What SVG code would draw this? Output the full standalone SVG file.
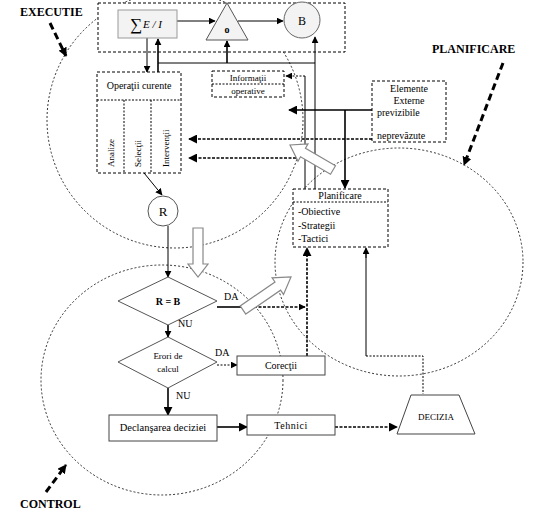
<svg xmlns="http://www.w3.org/2000/svg" width="551" height="523" viewBox="0 0 551 523">
<defs>
<marker id="ah" viewBox="0 0 10 10" refX="9" refY="5" markerWidth="7" markerHeight="7" markerUnits="userSpaceOnUse" orient="auto"><path d="M0,0 L10,5 L0,10 z" fill="#000"/></marker>
<marker id="ahb" viewBox="0 0 10 10" refX="9" refY="5" markerWidth="9" markerHeight="9" markerUnits="userSpaceOnUse" orient="auto"><path d="M0,0 L10,5 L0,10 z" fill="#000"/></marker>
</defs>
<style>
text{font-family:"Liberation Serif","Times New Roman",serif;fill:#000}
.lbl{font-size:12px;font-weight:bold}
.sm{font-size:9px}
.mm{font-size:10px}
.md{font-size:10px}
.zone{fill:none;stroke:#000;stroke-width:0.8;stroke-dasharray:2,2}
.dbox{fill:#fff;stroke:#000;stroke-width:1;stroke-dasharray:3,2}
.sbox{fill:#fff;stroke:#444;stroke-width:1}
.ln{fill:none;stroke:#000;stroke-width:1}
.lnb{fill:none;stroke:#000;stroke-width:1.6}
.dl{fill:none;stroke:#000;stroke-width:1;stroke-dasharray:2,1.5}
.dlb{fill:none;stroke:#000;stroke-width:1.6;stroke-dasharray:3,1.5}
.big{fill:none;stroke:#000;stroke-width:3;stroke-dasharray:7,4}
.blk{fill:#fff;stroke:#888;stroke-width:1.2}
</style>

<g id="zones">
<circle class="zone" cx="175" cy="120" r="128"/>
<ellipse class="zone" cx="399" cy="262" rx="124" ry="114"/>
<ellipse class="zone" cx="162" cy="380" rx="121" ry="115"/>
</g>

<g id="labels">
<text class="lbl" x="20" y="16">EXECUTIE</text>
<line class="big" x1="50" y1="23" x2="66" y2="56" marker-end="url(#ahb)"/>
<text class="lbl" x="432" y="53">PLANIFICARE</text>
<line class="big" x1="503" y1="63" x2="464" y2="165" marker-end="url(#ahb)"/>
<text class="lbl" x="20" y="508">CONTROL</text>
<line class="big" x1="46" y1="492" x2="66" y2="465" marker-end="url(#ahb)"/>
</g>

<g id="executie-box"><rect class="dbox" x="98" y="3" width="247" height="49" fill="none"/></g>

<g id="connectors">
<line class="ln" x1="177" y1="21" x2="215" y2="21" marker-end="url(#ah)"/>
<line class="ln" x1="238" y1="21" x2="283" y2="21" marker-end="url(#ah)"/>
<line class="ln" x1="147" y1="38" x2="147" y2="72" marker-end="url(#ah)"/>
<line class="lnb" x1="158" y1="72" x2="158" y2="39" marker-end="url(#ah)"/>
<line class="ln" x1="158" y1="63" x2="315" y2="63"/>
<line class="lnb" x1="227" y1="63" x2="227" y2="41" marker-end="url(#ah)"/>
<line class="ln" x1="315" y1="189" x2="315" y2="37" marker-end="url(#ah)"/>
<line class="ln" x1="305" y1="189" x2="305" y2="76"/>
<line class="dl" x1="305" y1="76" x2="286" y2="76" marker-end="url(#ah)"/>
<line class="lnb" x1="372" y1="110" x2="289" y2="110" marker-end="url(#ahb)"/>
<line class="lnb" x1="345" y1="110" x2="345" y2="188" marker-end="url(#ahb)"/>
<line class="dlb" x1="372" y1="139" x2="189" y2="139" marker-end="url(#ahb)"/>
<line class="dlb" x1="296" y1="158" x2="189" y2="158" marker-end="url(#ahb)"/>
<line class="ln" x1="140" y1="168" x2="162" y2="195" marker-end="url(#ah)"/>
<line class="ln" x1="168" y1="226" x2="168" y2="277" marker-end="url(#ah)"/>
<line class="lnb" x1="217" y1="307" x2="245" y2="307"/>
<line class="dlb" x1="245" y1="307" x2="305" y2="307" marker-end="url(#ah)"/>
<line class="dlb" x1="307" y1="356" x2="307" y2="248" marker-end="url(#ahb)"/>
<line class="lnb" x1="168" y1="325" x2="168" y2="337" marker-end="url(#ah)"/>
<line class="dl" x1="217" y1="365" x2="237" y2="365" marker-end="url(#ah)"/>
<line class="lnb" x1="168" y1="388" x2="168" y2="415" marker-end="url(#ahb)"/>
<line class="lnb" x1="217" y1="427" x2="247" y2="427" marker-end="url(#ahb)"/>
<line class="dlb" x1="335" y1="427" x2="397" y2="427" marker-end="url(#ahb)"/>
<polyline class="ln" points="366,356 366,249"/>
<line class="ln" x1="366" y1="258" x2="366" y2="248" marker-end="url(#ah)"/>
<polyline class="dl" points="366,356 423,356 423,394"/>
</g>

<g id="block-arrows">
<polygon class="blk" points="193,228 203,228 203,264 208,264 198,277 188,264 193,264"/>
<polygon class="blk" points="245.8,314.1 280.6,290.2 283.5,294.4 291,277 272.1,277.8 275,282 240.2,305.9"/>
<polygon class="blk" points="335.5,165.7 305.5,148.2 308,143.9 290,145 298,161.2 300.5,156.8 330.5,174.3"/>
</g>

<g id="node-sum">
<rect x="118" y="10" width="59" height="28" fill="#f3f3f3" stroke="#999"/>
<text x="130" y="30" font-size="17">∑</text>
<text x="143" y="28" font-size="11" font-style="italic">E / I</text>
</g>
<g id="node-o">
<polygon points="227,3 206,40 248,40" fill="#f3f3f3" stroke="#555"/>
<text x="227" y="33" font-size="10" font-weight="bold" text-anchor="middle">o</text>
</g>
<g id="node-b">
<circle cx="302" cy="20" r="18" fill="#f3f3f3" stroke="#666"/>
<text x="302" y="25" font-size="12" text-anchor="middle">B</text>
</g>

<g id="node-operatii">
<rect class="dbox" x="97" y="72" width="84" height="101"/>
<line class="dl" x1="97" y1="100" x2="181" y2="100"/>
<line class="dl" x1="124" y1="100" x2="124" y2="173"/>
<line class="dl" x1="151" y1="100" x2="151" y2="173"/>
<text class="mm" x="139" y="89" text-anchor="middle">Operaţii curente</text>
<text class="sm" transform="translate(114,167) rotate(-90)">Analize</text>
<text class="sm" transform="translate(141,167) rotate(-90)">Selecţii</text>
<text class="sm" transform="translate(169,167) rotate(-90)">Intervenţii</text>
</g>

<g id="node-informatii">
<rect class="dbox" x="212" y="71" width="72" height="26"/>
<line class="dl" x1="212" y1="84" x2="284" y2="84"/>
<text class="sm" x="248" y="81" text-anchor="middle">Informaţii</text>
<text class="sm" x="248" y="94" text-anchor="middle">operative</text>
</g>

<g id="node-elemente">
<rect class="dbox" x="372" y="81" width="74" height="61"/>
<text class="mm" x="409" y="92" text-anchor="middle">Elemente</text>
<text class="mm" x="409" y="104" text-anchor="middle">Externe</text>
<text class="mm" x="377" y="116">previzibile</text>
<text class="mm" x="377" y="139">neprevăzute</text>
</g>

<g id="node-planificare">
<rect class="dbox" x="293" y="189" width="95" height="58"/>
<line class="dl" x1="293" y1="202" x2="388" y2="202"/>
<text class="mm" x="340" y="199" text-anchor="middle">Planificare</text>
<text class="mm" x="298" y="215">-Obiective</text>
<text class="mm" x="298" y="229">-Strategii</text>
<text class="mm" x="298" y="242">-Tactici</text>
</g>

<g id="node-r">
<circle cx="163" cy="211" r="15" fill="#fff" stroke="#555"/>
<text x="163" y="216" font-size="13" text-anchor="middle">R</text>
</g>

<g id="node-rb">
<polygon points="168,277 217,301 168,325 118,301" fill="#fff" stroke="#555"/>
<text x="168" y="305" font-size="10" font-weight="bold" text-anchor="middle">R = B</text>
<text class="md" x="224" y="300">DA</text>
<text class="md" x="178" y="327">NU</text>
</g>

<g id="node-erori">
<polygon points="168,337 217,362 168,388 118,362" fill="#fff" stroke="#555"/>
<text class="sm" x="168" y="359" text-anchor="middle">Erori de</text>
<text class="sm" x="168" y="372" text-anchor="middle">calcul</text>
<text class="md" x="215" y="356">DA</text>
<text class="md" x="176" y="399">NU</text>
</g>

<g id="node-corectii">
<rect class="sbox" x="237" y="356" width="88" height="19"/>
<text class="mm" x="281" y="369" text-anchor="middle">Corecţii</text>
</g>

<g id="node-declansarea">
<rect class="sbox" x="109" y="415" width="108" height="26"/>
<text x="163" y="431" font-size="10.5" text-anchor="middle">Declanşarea deciziei</text>
</g>

<g id="node-tehnici">
<rect class="sbox" x="247" y="415" width="88" height="20"/>
<text class="mm" x="291" y="429" text-anchor="middle" letter-spacing="0.5">Tehnici</text>
</g>

<g id="node-decizia">
<polygon points="411,395 459,395 475,434 397,434" fill="#fff" stroke="#444"/>
<text x="436" y="420" font-size="9" text-anchor="middle">DECIZIA</text>
</g>
</svg>
